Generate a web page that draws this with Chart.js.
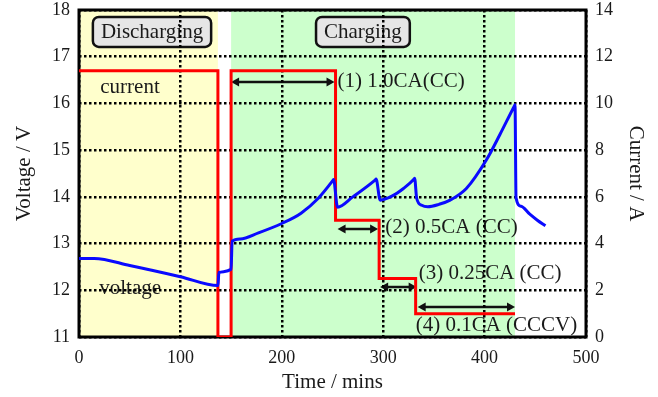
<!DOCTYPE html>
<html>
<head>
<meta charset="utf-8">
<script src="https://cdn.jsdelivr.net/npm/chart.js@4"></script>
<style>
  html, body { margin: 0; padding: 0; background: #fff; }
  #wrap { width: 658px; height: 397px; position: relative; }
</style>
</head>
<body>
<div id="wrap"><canvas id="chart"></canvas></div>
<script>
// battery voltage (V) against time (mins)
const voltageTime = [0, 15, 50, 100, 137, 138, 150, 151, 159, 177, 200, 219, 236, 250, 251,
  255, 270, 292, 293, 297, 309, 320, 330, 331, 333, 338, 344, 355, 366, 382, 402, 415, 429, 430,
  431, 436, 444, 452, 460];
const voltage = [12.68, 12.68, 12.53, 12.29, 12.1, 12.38, 12.45, 13.05, 13.1, 13.23, 13.43, 13.65, 13.97, 14.34, 14.37,
  13.78, 14.0, 14.36, 14.38, 13.93, 14.02, 14.18, 14.37, 14.4, 13.97, 13.82, 13.79, 13.84, 13.93, 14.18, 14.8, 15.33, 15.93, 15.97,
  13.98, 13.8, 13.64, 13.5, 13.38];

// current (A), stepped
const currentTime = [0, 137, 137, 150, 150, 253, 253, 296, 296, 332, 332, 430];
const current = [11.4, 11.4, 0, 0, 11.4, 11.4, 5.0, 5.0, 2.5, 2.5, 1.0, 1.0];

const timeTicks = [0, 100, 200, 300, 400, 500];
const voltTicks = [11, 12, 13, 14, 15, 16, 17, 18];
const currTicks = [0, 2, 4, 6, 8, 10, 12, 14];

const phaseNames = ['Discharging', 'Charging'];
const phaseStart = [0, 150];
const phaseEnd = [137, 430];

const stepLabels = ['(1) 1.0CA(CC)', '(2) 0.5CA (CC)', '(3) 0.25CA (CC)', '(4) 0.1CA (CCCV)'];
const stepStart = [150, 255, 297, 334];
const stepEnd = [252, 295, 333, 430];

const serif = '"Liberation Serif", "Times New Roman", serif';
const ink = '#1a1a1a';

function arrow(ctx, x1, x2, y) {
  const h = 8, w = 4.5;
  ctx.beginPath();
  ctx.moveTo(x1 + 4, y);
  ctx.lineTo(x2 - 4, y);
  ctx.stroke();
  ctx.beginPath();
  ctx.moveTo(x1, y); ctx.lineTo(x1 + h, y - w); ctx.lineTo(x1 + h, y + w); ctx.closePath();
  ctx.moveTo(x2, y); ctx.lineTo(x2 - h, y - w); ctx.lineTo(x2 - h, y + w); ctx.closePath();
  ctx.fill();
}

const backdrop = {
  id: 'backdrop',
  beforeDraw(chart) {
    const { ctx, chartArea: a, scales: { x, y, y1 } } = chart;
    const fills = ['rgb(255,255,204)', 'rgb(204,255,204)'];
    ctx.save();
    phaseStart.forEach((s, i) => {
      const x1 = x.getPixelForValue(s), x2 = x.getPixelForValue(phaseEnd[i]);
      ctx.fillStyle = fills[i];
      ctx.fillRect(x1, a.top, x2 - x1, a.bottom - a.top);
    });

    ctx.font = '21px ' + serif;
    ctx.textBaseline = 'middle';

    // phase boxes
    const boxAt = [72, 280];
    phaseNames.forEach((name, i) => {
      const cx = x.getPixelForValue(boxAt[i]);
      const cy = y.getPixelForValue(17.53);
      const w = ctx.measureText(name).width + 16, h = 30;
      ctx.beginPath();
      ctx.roundRect(cx - w / 2, cy - h / 2, w, h, 6);
      ctx.fillStyle = '#e6e6e6';
      ctx.fill();
      ctx.lineWidth = 2.5;
      ctx.strokeStyle = '#111';
      ctx.stroke();
      ctx.fillStyle = ink;
      ctx.textAlign = 'center';
      ctx.fillText(name, cx, cy + 1);
    });

    ctx.textAlign = 'left';
    ctx.fillStyle = ink;
    ctx.fillText('current', x.getPixelForValue(21), y1.getPixelForValue(10.7));
    ctx.fillText('voltage', x.getPixelForValue(20), y.getPixelForValue(12.03));

    // step arrows and labels
    const arrowAt = [10.92, 4.62, 2.14, 1.28];
    const textAt = [[255, 10.92], [302, 4.67], [335, 2.7], [332, 0.51]];
    ctx.strokeStyle = '#111';
    ctx.lineWidth = 2.5;
    stepLabels.forEach((lab, i) => {
      ctx.fillStyle = '#111';
      arrow(ctx, x.getPixelForValue(stepStart[i]), x.getPixelForValue(stepEnd[i]), y1.getPixelForValue(arrowAt[i]));
      ctx.fillStyle = ink;
      ctx.fillText(lab, x.getPixelForValue(textAt[i][0]), y1.getPixelForValue(textAt[i][1]));
    });
    ctx.restore();
  },
  beforeDatasetsDraw(chart) {
    const { ctx, chartArea: a } = chart;
    ctx.save();
    ctx.lineWidth = 3;
    ctx.strokeStyle = '#000';
    ctx.strokeRect(a.left, a.top, a.right - a.left, a.bottom - a.top);
    ctx.restore();
  }
};

const gridStyle = { color: '#000', lineWidth: 2.5, drawTicks: false };
const dots = { display: false, dash: [2.5, 2.5] };
const tickFont = { family: serif, size: 18 };
const titleFont = { family: serif, size: 21 };

function fitVertical(w) {
  return s => { s.width = w; s.paddingTop = 0; s.paddingBottom = 0; };
}

new Chart(document.getElementById('chart'), {
  type: 'line',
  data: {
    datasets: [{
      label: 'voltage',
      data: voltageTime.map((t, i) => ({ x: t, y: voltage[i] })),
      yAxisID: 'y',
      borderColor: 'rgb(10,10,255)',
      borderWidth: 3,
      pointRadius: 0,
      cubicInterpolationMode: 'monotone'
    }, {
      label: 'current',
      data: currentTime.map((t, i) => ({ x: t, y: current[i] })),
      yAxisID: 'y1',
      borderColor: 'rgb(255,0,0)',
      borderWidth: 3,
      pointRadius: 0,
      tension: 0
    }]
  },
  options: {
    responsive: true,
    maintainAspectRatio: false,
    animation: false,
    layout: { padding: { top: 10, left: 0, right: 0, bottom: 0 } },
    plugins: { legend: { display: false }, tooltip: { enabled: false } },
    scales: {
      x: {
        type: 'linear', min: 0, max: 500,
        afterBuildTicks: s => { s.ticks = timeTicks.map(v => ({ value: v })); },
        afterFit: s => { s.height = 60; s.paddingLeft = 0; s.paddingRight = 0; },
        grid: gridStyle, border: dots,
        ticks: { font: tickFont, color: ink, padding: 10, maxRotation: 0 },
        title: { display: true, text: 'Time / mins', font: titleFont, color: ink, padding: { top: 0, bottom: 2 } }
      },
      y: {
        position: 'left', min: 11, max: 18,
        afterBuildTicks: s => { s.ticks = voltTicks.map(v => ({ value: v })); },
        afterFit: fitVertical(79),
        grid: gridStyle, border: dots,
        ticks: { font: tickFont, color: ink, padding: 9 },
        title: { display: true, text: 'Voltage / V', font: titleFont, color: ink, padding: { top: 12, bottom: 0 } }
      },
      y1: {
        position: 'right', min: 0, max: 14,
        afterBuildTicks: s => { s.ticks = currTicks.map(v => ({ value: v })); },
        afterFit: fitVertical(72),
        grid: { display: false, drawTicks: false }, border: { display: false },
        ticks: { font: tickFont, color: ink, padding: 9 },
        title: { display: true, text: 'Current / A', font: titleFont, color: ink, padding: { top: 10, bottom: 0 } }
      }
    }
  },
  plugins: [backdrop]
});
</script>
</body>
</html>
